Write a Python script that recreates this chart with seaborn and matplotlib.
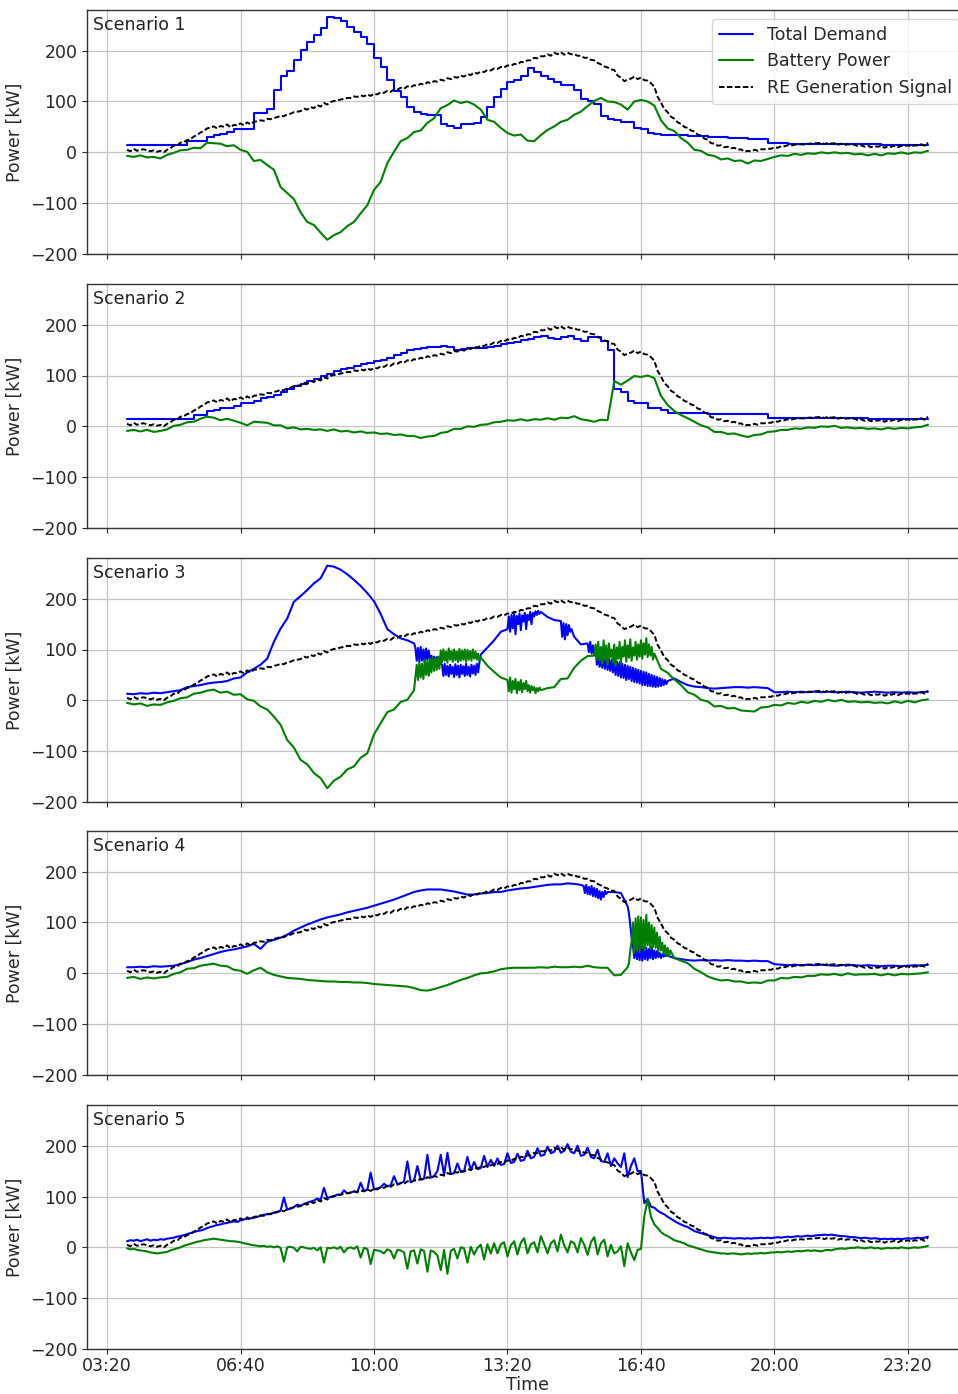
import numpy as np
import matplotlib
matplotlib.use("Agg")
import matplotlib.pyplot as plt
from matplotlib.ticker import FuncFormatter
import seaborn as sns

# ---------------------------------------------------------------------------
# Time axis (clock strings, converted to minutes after midnight)
# ---------------------------------------------------------------------------
FIRST_SAMPLE = "03:50"
COARSE_STEP = 10   # minutes between samples of the regular series
FINE_STEP = 5      # RE signal and scenario 5 are stored every 5 minutes
BURST_STEP = 2     # fast-switching stretches are stored every 2 minutes

TIME_TICKS = ["03:20", "06:40", "10:00", "13:20", "16:40", "20:00", "23:20"]
Y_TICKS = [-200, -100, 0, 100, 200]
SCENARIO_NAMES = ["Scenario 1", "Scenario 2", "Scenario 3", "Scenario 4", "Scenario 5"]
SERIES_LABELS = ["Total Demand", "Battery Power", "RE Generation Signal"]

# ---------------------------------------------------------------------------
# RE generation signal [kW], every 5 min from 03:50 to 23:50 (same in all scenarios)
# ---------------------------------------------------------------------------
RE_SIGNAL = [
    5, 2,                                                         # 03:50-03:55
    7, 3, 5, 6, 4, 2, 4, 1, 3, 0, 5, 8,                           # 04
    13, 13, 19, 20, 24, 26, 31, 34, 39, 42, 47, 49,               # 05
    51, 47, 52, 50, 55, 49, 54, 53, 57, 53, 59, 55,               # 06
    60, 61, 63, 62, 66, 65, 68, 69, 72, 71, 75, 76,               # 07
    79, 80, 81, 86, 84, 89, 87, 93, 90, 97, 94, 99,               # 08
    101, 102, 104, 105, 107, 107, 110, 109, 112, 110, 114, 111,   # 09
    115, 114, 118, 117, 121, 119, 124, 123, 127, 125, 130, 128,   # 10
    132, 131, 135, 133, 138, 136, 140, 139, 143, 141, 146, 144,   # 11
    148, 147, 151, 149, 154, 152, 157, 155, 159, 158, 162, 161,   # 12
    165, 164, 168, 167, 171, 170, 174, 173, 178, 177, 181, 181,   # 13
    186, 185, 189, 189, 193, 190, 196, 193, 197, 192, 196, 193,   # 14
    193, 190, 190, 186, 186, 182, 181, 176, 173, 169, 167, 163,   # 15
    162, 151, 147, 140, 143, 145, 149, 144, 147, 142, 141, 136,   # 16
    129, 109, 98, 85, 79, 70, 66, 59, 56, 50, 48, 43,             # 17
    41, 35, 33, 27, 25, 18, 17, 13, 14, 10, 11, 8,                # 18
    9, 5, 6, 1, 3, 2, 5, 3, 6, 6, 7, 7,                           # 19
    10, 9, 12, 12, 14, 13, 15, 15, 16, 15, 17, 17,                # 20
    18, 18, 19, 16, 19, 17, 18, 15, 17, 14, 16, 15,               # 21
    15, 12, 14, 11, 13, 10, 12, 11, 13, 9, 12, 11,                # 22
    13, 10, 13, 12, 14, 11, 14, 13, 16, 13, 19,                   # 23:00-23:50
]

# ---------------------------------------------------------------------------
# Scenario 1 [kW], every 10 min from 03:50 (demand is a stepped profile)
# ---------------------------------------------------------------------------
DEMAND_1 = [
    15,                                   # 03:50
    15, 15, 15, 15, 15, 15,               # 04
    15, 15, 22, 22, 22, 30,               # 05
    34, 37, 40, 46, 46, 46,               # 06
    77, 77, 86, 122, 150, 160,            # 07
    181, 201, 217, 231, 244, 267,         # 08
    265, 258, 247, 237, 227, 214,         # 09
    185, 168, 142, 120, 109, 89,          # 10
    80, 76, 74, 74, 56, 52,               # 11
    48, 56, 56, 57, 69, 89,               # 12
    109, 125, 138, 142, 150, 165,         # 13
    158, 150, 145, 138, 132, 132,         # 14
    122, 105, 100, 96, 72, 65,            # 15
    63, 59, 59, 47, 46, 38,               # 16
    37, 35, 35, 34, 34, 33,               # 17
    33, 32, 31, 31, 30, 29,               # 18
    29, 28, 27, 27, 26, 18,               # 19
    18, 18, 17, 17, 17, 17,               # 20
    17, 17, 16, 16, 16, 16,               # 21
    16, 16, 16, 16, 15, 15,               # 22
    15, 15, 15, 15, 15, 15,               # 23
]
BATTERY_1 = [
    -7,
    -9, -6, -10, -9, -12, -5,
    -1, 4, 5, 9, 8, 19,
    18, 17, 12, 14, 5, 1,
    -17, -15, -25, -34, -68, -80,
    -92, -118, -137, -143, -158, -172,
    -163, -157, -145, -137, -120, -104,
    -74, -58, -21, 1, 22, 28,
    40, 43, 58, 67, 87, 93,
    102, 97, 100, 94, 84, 64,
    60, 48, 38, 33, 35, 23,
    22, 34, 44, 51, 60, 64,
    74, 80, 91, 101, 107, 100,
    99, 94, 84, 100, 103, 100,
    92, 63, 47, 42, 28, 19,
    5, 3, -5, -7, -14, -12,
    -17, -16, -22, -16, -17, -13,
    -9, -6, -7, -3, -5, -2,
    -3, 0, -2, 0, -2, -1,
    -4, -3, -6, -3, -6, -2,
    -3, 0, -3, 0, -1, 3,
]

# ---------------------------------------------------------------------------
# Scenario 2 [kW], every 10 min from 03:50
# ---------------------------------------------------------------------------
DEMAND_2 = [
    15,
    15, 15, 15, 15, 15, 15,
    15, 15, 15, 23, 23, 30,
    32, 37, 37, 40, 46, 46,
    50, 56, 58, 62, 68, 74,
    79, 84, 89, 94, 99, 103,
    108, 112, 115, 119, 122, 125,
    128, 131, 135, 140, 145, 150,
    153, 154, 156, 156, 158, 157,
    151, 152, 154, 155, 155, 156,
    158, 161, 163, 166, 170, 172,
    175, 178, 174, 171, 176, 178,
    172, 168, 176, 175, 168, 150,
    74, 68, 50, 46, 46, 37,
    36, 33, 27, 26, 26, 26,
    26, 26, 25, 25, 25, 25,
    25, 25, 25, 25, 25, 16,
    16, 16, 16, 16, 16, 16,
    16, 16, 16, 16, 16, 16,
    16, 16, 15, 15, 15, 15,
    15, 15, 15, 15, 15, 15,
]
BATTERY_2 = [
    -9,
    -7, -10, -7, -11, -9, -6,
    1, 3, 8, 9, 15, 19,
    17, 12, 15, 11, 7, 2,
    9, 8, 7, 2, 2, -4,
    -2, -6, -5, -7, -6, -9,
    -6, -10, -9, -12, -10, -13,
    -12, -15, -14, -17, -16, -19,
    -19, -23, -20, -19, -13, -11,
    -5, -5, 0, -1, 3, 4,
    8, 9, 12, 11, 14, 11,
    14, 13, 16, 13, 17, 16,
    20, 14, 12, 9, 13, 12,
    89, 82, 90, 99, 97, 100,
    95, 60, 42, 30, 22, 16,
    9, 2, -2, -11, -11, -15,
    -14, -18, -21, -17, -16, -11,
    -10, -7, -7, -4, -5, -2,
    -3, 0, -1, 1, -3, -2,
    -4, -3, -5, -4, -6, -3,
    -5, -3, -4, -2, -1, 3,
]

# ---------------------------------------------------------------------------
# Scenario 3 [kW], every 10 min from 03:50, plus fast-switching stretches
# ---------------------------------------------------------------------------
DEMAND_3 = [
    13,
    12, 14, 13, 15, 14, 16,
    18, 20, 26, 28, 30, 33,
    35, 36, 38, 43, 45, 55,
    62, 70, 82, 115, 141, 161,
    194, 205, 217, 230, 240, 265,
    263, 257, 248, 237, 225, 211,
    195, 170, 140, 130, 122, 118,
    112, 90, 85, 82, 59, 60,
    58, 60, 59, 60, 89, 104,
    118, 135, 160, 165, 160, 168,
    172, 174, 164, 158, 150, 138,
    125, 110, 100, 85, 70, 60,
    55, 50, 48, 45, 42, 40,
    38, 36, 38, 43, 36, 30,
    27, 26, 24, 23, 24, 25,
    26, 26, 25, 26, 25, 24,
    16, 16, 17, 16, 17, 16,
    17, 16, 17, 16, 16, 17,
    16, 15, 16, 17, 16, 15,
    16, 15, 16, 15, 16, 17,
]
DEMAND_3_BURSTS = [
    ("11:00", [112, 104, 78, 103, 76, 105, 78, 100, 75, 102,
               80, 98, 78, 88, 80, 86, 79, 85, 78, 84,
               72, 70, 48, 72, 50, 68, 47, 70, 52, 66,
               46, 71, 50, 68, 45, 70, 52, 67, 48, 72,
               50, 66, 47, 70, 53, 68, 50, 72, 55, 75,
               90]),
    ("13:20", [140, 165, 135, 168, 142, 170, 130, 166, 150, 171,
               138, 167, 155, 172, 140, 168, 158, 174, 150, 172,
               165, 175, 168, 176, 170, 174]),
    ("14:40", [156, 125, 152, 120, 150, 128, 148, 135, 140, 132, 125]),
    ("15:20", [112, 95, 115, 92, 108, 89, 100, 70, 88, 66,
               85, 64, 86, 62, 84, 60, 82, 58, 80, 55,
               78, 50, 76, 48, 75, 45, 72, 44, 70, 40,
               68, 42, 66, 38, 64, 36, 62, 35, 60, 33,
               58, 30, 56, 30, 55, 28, 52, 28, 50, 27,
               48, 26, 46, 27, 44, 28, 42, 30, 40, 32,
               38]),
]
BATTERY_3 = [
    -5,
    -8, -6, -11, -8, -9, -4,
    -1, 4, 6, 13, 15, 19,
    21, 15, 17, 11, 12, 2,
    -1, -12, -18, -32, -48, -78,
    -93, -117, -126, -143, -153, -173,
    -158, -150, -136, -130, -113, -104,
    -67, -45, -23, -18, -3, 1,
    20, 50, 55, 60, 85, 88,
    90, 88, 86, 85, 70, 68,
    56, 45, 30, 25, 20, 18,
    16, 15, 24, 26, 42, 43,
    64, 78, 87, 90, 95, 92,
    95, 90, 100, 88, 90, 85,
    80, 62, 54, 41, 30, 16,
    11, 1, -2, -12, -11, -16,
    -15, -20, -21, -22, -14, -13,
    -9, -10, -5, -7, -3, -5,
    -1, -3, 1, -2, 1, -3,
    -2, -4, -3, -5, -4, -6,
    -2, -5, -1, -4, 0, 2,
]
BATTERY_3_BURSTS = [
    ("11:02", [45, 70, 40, 75, 45, 72, 42, 80, 50, 78,
               48, 82, 55, 85, 58, 82, 60, 86, 62, 98,
               75, 100, 78, 96, 74, 102, 80, 97, 76, 100,
               79, 96, 75, 101, 78, 98, 80, 100, 76, 99,
               80, 97, 78, 100, 82, 96, 80, 92, 78, 84]),
    ("13:20", [40, 18, 45, 15, 38, 22, 42, 14, 36, 20,
               40, 16, 34, 22, 38, 18, 30, 15, 28, 20,
               26, 14, 24, 18, 25, 20]),
    ("15:30", [88, 110, 80, 115, 78, 105, 72, 118, 80, 108,
               70, 112, 85, 100, 75, 110, 68, 104, 82, 115,
               72, 105, 86, 118, 76, 108, 84, 120, 78, 104,
               88, 115, 80, 110, 86, 118, 82, 112, 90, 122,
               85, 110, 88, 105, 80, 92]),
]

# ---------------------------------------------------------------------------
# Scenario 4 [kW], every 10 min from 03:50, plus fast-switching stretches
# ---------------------------------------------------------------------------
DEMAND_4 = [
    12,
    12, 13, 12, 14, 13, 14,
    15, 18, 22, 27, 30, 34,
    38, 42, 45, 47, 50, 53,
    58, 48, 62, 66, 70, 76,
    84, 90, 96, 101, 106, 110,
    113, 116, 120, 123, 126, 129,
    133, 137, 141, 145, 150, 155,
    160, 163, 165, 165, 165, 163,
    161, 158, 155, 155, 157, 158,
    160, 160, 163, 165, 167, 168,
    170, 172, 174, 175, 175, 177,
    176, 174, 170, 165, 162, 158,
    160, 158, 132, 40, 40, 38,
    36, 34, 32, 30, 28, 26,
    25, 26, 25, 26, 25, 26,
    25, 25, 24, 25, 24, 24,
    18, 17, 16, 17, 16, 17,
    16, 17, 16, 15, 16, 17,
    16, 15, 16, 15, 14, 15,
    15, 14, 15, 16, 15, 17,
]
DEMAND_4_BURSTS = [
    ("15:14", [172, 158, 174, 156, 170, 155, 172, 152, 168, 150,
               166, 148, 162, 145, 160, 150, 162, 156, 160]),
    ("16:22", [118, 95, 70, 55, 30, 58, 28, 56, 26, 55,
               25, 52, 28, 50, 26, 48, 30, 52, 28, 45,
               30, 44, 32, 40, 30, 38, 33, 36, 34, 35]),
]
BATTERY_4 = [
    -9,
    -7, -11, -8, -10, -8, -7,
    -1, 2, 9, 10, 15, 17,
    19, 15, 14, 7, 5, -1,
    6, 11, 2, -3, -6, -9,
    -10, -11, -13, -14, -15, -16,
    -16, -17, -17, -18, -18, -19,
    -21, -22, -23, -24, -25, -26,
    -29, -33, -34, -31, -27, -23,
    -18, -13, -9, -4, 0, 1,
    4, 8, 10, 11, 11, 11,
    11, 12, 11, 13, 12, 12,
    13, 12, 15, 12, 11, 11,
    -4, -3, 12, 60, 70, 70,
    60, 45, 38, 30, 25, 20,
    9, 2, -6, -11, -14, -13,
    -16, -16, -19, -18, -19, -14,
    -14, -9, -10, -7, -8, -5,
    -5, -2, -3, -1, -4, 0,
    -3, -2, -2, -1, -4, -1,
    -4, -1, -2, -1, 0, 2,
]
BATTERY_4_BURSTS = [
    ("16:22", [20, 45, 62, 100, 40, 108, 45, 112, 42, 110,
               50, 105, 45, 115, 55, 100, 48, 95, 52, 90,
               50, 80, 42, 72, 45, 60, 38, 55, 35, 50,
               33, 45]),
]

# ---------------------------------------------------------------------------
# Scenario 5 [kW], every 5 min from 03:50
# ---------------------------------------------------------------------------
DEMAND_5 = [
    12, 14,
    13, 15, 12, 14, 16, 13, 15, 14, 16, 15, 17, 18,
    19, 21, 22, 24, 26, 28, 30, 32, 33, 35, 38, 40,
    42, 44, 45, 47, 48, 50, 51, 50, 53, 55, 56, 57,
    58, 60, 62, 64, 65, 66, 68, 70, 72, 98, 74, 77,
    79, 84, 82, 85, 88, 90, 92, 96, 93, 117, 97, 99,
    100, 104, 103, 112, 106, 108, 110, 108, 127, 111, 113, 147,
    114, 116, 118, 125, 120, 122, 140, 124, 126, 130, 169, 128,
    131, 160, 133, 135, 182, 137, 140, 150, 182, 142, 186, 144,
    146, 165, 148, 150, 178, 152, 168, 154, 156, 180, 158, 172,
    160, 175, 162, 164, 185, 166, 168, 184, 170, 172, 190, 175,
    178, 195, 180, 182, 198, 185, 188, 200, 186, 190, 203, 188,
    185, 200, 180, 182, 196, 178, 175, 192, 170, 168, 185, 160,
    175, 165, 158, 185, 138, 160, 175, 150, 150, 87, 95, 80,
    78, 72, 68, 65, 60, 56, 52, 48, 45, 42, 40, 36,
    32, 30, 28, 26, 24, 22, 20, 18, 18, 19, 18, 18,
    17, 18, 18, 17, 18, 17, 18, 18, 19, 18, 19, 18,
    19, 20, 19, 20, 21, 20, 21, 22, 21, 22, 23, 22,
    23, 24, 24, 25, 24, 25, 24, 23, 22, 22, 21, 20,
    20, 19, 18, 19, 18, 17, 18, 17, 16, 17, 16, 17,
    16, 17, 16, 17, 18, 17, 18, 19, 18, 19, 21,
]
BATTERY_5 = [
    -2, -4,
    -3, -5, -6, -7, -8, -10, -11, -12, -11, -10, -9, -6,
    -4, -2, 0, 3, 5, 7, 9, 11, 12, 14, 15, 16,
    17, 16, 15, 14, 13, 12, 12, 11, 10, 8, 7, 5,
    4, 3, 2, 3, 1, 2, 0, 2, -1, -28, 0, 1,
    -1, -8, 1, 0, -2, -3, -1, -6, 0, -30, -1, -2,
    0, -3, 1, -10, -2, 0, -3, 2, -20, -1, -3, -33,
    -5, -6, -8, -12, -4, -7, -22, -5, -6, -10, -42, -8,
    -6, -32, -4, -7, -48, -6, -9, -16, -45, -5, -52, -7,
    -3, -22, 0, -2, -30, 1, -14, -1, 5, -24, 6, -12,
    8, -12, 6, 10, -18, 4, 12, -14, 9, 18, -12, 6,
    10, -10, 22, 6, -12, 8, 14, -8, 25, 4, -10, 12,
    8, -10, 18, 5, -15, 10, 20, -14, 8, 15, -18, 5,
    -12, -8, 2, -37, 8, -10, -25, -5, -3, 61, 94, 60,
    45, 38, 30, 25, 22, 18, 14, 12, 10, 8, 4, 2,
    0, -2, -4, -6, -8, -9, -10, -11, -12, -12, -13, -12,
    -12, -13, -14, -13, -12, -13, -12, -12, -11, -12, -11, -10,
    -10, -9, -10, -9, -8, -9, -8, -7, -8, -7, -6, -7,
    -6, -7, -8, -6, -5, -6, -4, -3, -2, -3, -2, -1,
    -1, 0, -1, -2, -1, 0, -2, -1, -3, -2, -1, -2,
    -1, -2, 0, -1, -2, -1, 0, -1, 0, 1, 3,
]


def to_minutes(clock):
    hours, minutes = clock.split(":")
    return int(hours) * 60 + int(minutes)


def to_clock(minutes, _pos=None):
    minutes = int(round(minutes))
    return f"{minutes // 60:02d}:{minutes % 60:02d}"


START = to_minutes(FIRST_SAMPLE)


def sampled(values, step, bursts=()):
    """Regular samples, with 2-minute stretches replacing the samples they cover."""
    t = START + step * np.arange(len(values))
    v = np.asarray(values, dtype=float)
    keep = np.ones(len(t), dtype=bool)
    parts_t, parts_v = [], []
    for start, vals in bursts:
        bt = to_minutes(start) + BURST_STEP * np.arange(len(vals))
        keep &= (t < bt[0]) | (t > bt[-1])
        parts_t.append(bt)
        parts_v.append(np.asarray(vals, dtype=float))
    tt = np.concatenate([t[keep]] + parts_t)
    vv = np.concatenate([v[keep]] + parts_v)
    order = np.argsort(tt, kind="stable")
    return tt[order], vv[order]


scenarios = [
    (sampled(DEMAND_1, COARSE_STEP), "steps-post", sampled(BATTERY_1, COARSE_STEP)),
    (sampled(DEMAND_2, COARSE_STEP), "steps-post", sampled(BATTERY_2, COARSE_STEP)),
    (sampled(DEMAND_3, COARSE_STEP, DEMAND_3_BURSTS), "default",
     sampled(BATTERY_3, COARSE_STEP, BATTERY_3_BURSTS)),
    (sampled(DEMAND_4, COARSE_STEP, DEMAND_4_BURSTS), "default",
     sampled(BATTERY_4, COARSE_STEP, BATTERY_4_BURSTS)),
    (sampled(DEMAND_5, FINE_STEP), "default", sampled(BATTERY_5, FINE_STEP)),
]
re_t, re_v = sampled(RE_SIGNAL, FINE_STEP)

# ---------------------------------------------------------------------------
# Figure
# ---------------------------------------------------------------------------
sns.set_style("ticks")
plt.rcParams["font.family"] = ["DejaVu Sans"]
plt.rcParams["font.size"] = 12.5
plt.rcParams["axes.linewidth"] = 1.0
plt.rcParams["axes.edgecolor"] = "#333333"
plt.rcParams["xtick.major.pad"] = 2.5

W, H = 958, 1394
fig = plt.figure(figsize=(W / 100, H / 100), dpi=100)
panel_left, panel_right = 87, 968
panel_tops = [10, 284, 558, 831, 1105]
panel_h = 244

tick_minutes = [to_minutes(s) for s in TIME_TICKS]
x_min = START - 60
x_max = START + FINE_STEP * (len(RE_SIGNAL) - 1) + 60

axes = []
for i, top in enumerate(panel_tops):
    ax = fig.add_axes([panel_left / W, 1 - (top + panel_h) / H,
                       (panel_right - panel_left) / W, panel_h / H])
    axes.append(ax)
    (dt, dv), dstyle, (bt, bv) = scenarios[i]
    first = i == 0
    sns.lineplot(x=dt, y=dv, ax=ax, color="blue", linewidth=1.5,
                 drawstyle=dstyle, estimator=None, sort=False,
                 label=SERIES_LABELS[0] if first else None)
    sns.lineplot(x=bt, y=bv, ax=ax, color="green", linewidth=1.5,
                 estimator=None, sort=False,
                 label=SERIES_LABELS[1] if first else None)
    sns.lineplot(x=re_t, y=re_v, ax=ax, color="black", linewidth=1.4,
                 linestyle=(0, (2.8, 1.3)), estimator=None, sort=False,
                 label=SERIES_LABELS[2] if first else None)

    ax.set_xlim(x_min, x_max)
    ax.set_ylim(-200, 280)
    ax.set_yticks(Y_TICKS)
    ax.set_xticks(tick_minutes)
    ax.xaxis.set_major_formatter(FuncFormatter(to_clock))
    ax.grid(True, color="#c4c4c4", linewidth=0.9)
    ax.set_axisbelow(True)
    ax.set_ylabel("Power [kW]")
    ax.set_xlabel("")
    ax.text(0.007, 0.975, SCENARIO_NAMES[i], transform=ax.transAxes,
            ha="left", va="top", fontsize=12.5, color="#222222")
    if i < len(panel_tops) - 1:
        ax.tick_params(axis="x", labelbottom=False)
    leg = ax.get_legend()
    if leg is not None:
        leg.remove()

handles, labels = axes[0].get_legend_handles_labels()
axes[0].legend(handles, labels, loc="upper right", fontsize=12.5, framealpha=0.8)
axes[-1].set_xlabel("Time")
axes[-1].xaxis.set_label_coords(0.5, -0.112)

fig.savefig("out.png", dpi=100)
